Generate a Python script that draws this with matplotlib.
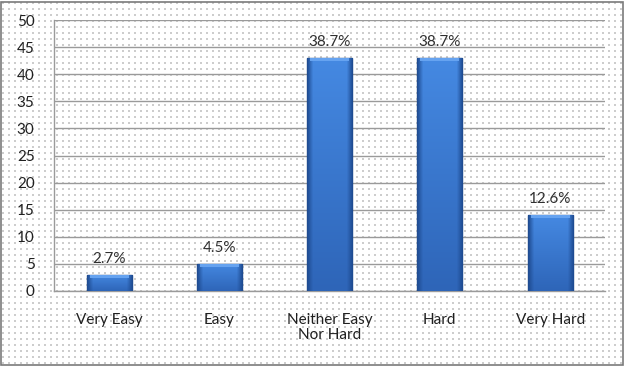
# difficulty_bars.py
# Bar chart of difficulty ratings with percentage labels

import numpy as np
import matplotlib.pyplot as plt
from matplotlib.patches import Rectangle
from matplotlib.colors import to_rgb

categories = ["Very Easy", "Easy", "Neither Easy\nNor Hard", "Hard", "Very Hard"]
counts = [3, 5, 43, 43, 14]
pct_labels = ["2.7%", "4.5%", "38.7%", "38.7%", "12.6%"]
yticks = [0, 5, 10, 15, 20, 25, 30, 35, 40, 45, 50]

plt.rcParams["font.family"] = ["Lato", "DejaVu Sans"]

W, H = 625, 366
fig = plt.figure(figsize=(W / 100, H / 100), dpi=100)

# dotted background + frame, on a full-figure axes behind everything
bg = fig.add_axes([0, 0, 1, 1], zorder=-1)
bg.set_axis_off()
bg.set_xlim(0, W)
bg.set_ylim(0, H)
gx, gy = np.meshgrid(np.arange(3, W, 6), np.arange(3, H, 6))
bg.scatter(gx.ravel(), gy.ravel(), s=0.6, marker="s", color="#CDCDCD", linewidths=0)
bg.add_patch(Rectangle((1, 1), W - 3, H - 3, fill=False,
                       edgecolor="#7A7A7A", linewidth=1.2))

ax = fig.add_axes([0.0864, 0.205, 0.882, 0.740])
ax.patch.set_alpha(0)

x = np.arange(len(categories))
bars = ax.bar(x, counts, width=0.41, color="#3A78CC", edgecolor="#1E4680",
              linewidth=1.0, zorder=3)

# shaded bar fill: vertical gradient, darker sides
top_c = np.array(to_rgb("#4589E2"))
bot_c = np.array(to_rgb("#2E65B8"))
side_c = np.array(to_rgb("#1F4C92"))
for b in bars:
    x0, w, h = b.get_x(), b.get_width(), b.get_height()
    ny, nx = 200, 40
    t = np.linspace(1, 0, ny)[:, None, None]
    base = bot_c + (top_c - bot_c) * t
    u = np.linspace(-1, 1, nx)[None, :, None]
    edge = np.clip((np.abs(u) - 0.75) / 0.25, 0, 1)
    img = base * (1 - edge) + side_c * edge
    im = ax.imshow(np.broadcast_to(img, (ny, nx, 3)), extent=(x0, x0 + w, 0, h),
                   aspect="auto", zorder=3.5, interpolation="bilinear")
    im.set_clip_path(b)
    # light bevel along the top
    ax.bar(x0 + w / 2, 0.55, bottom=h - 0.6, width=w * 0.86,
           color="#66A3F0", linewidth=0, zorder=4)

for xi, c, lab in zip(x, counts, pct_labels):
    ax.text(xi, c + 1.6, lab, ha="center", va="bottom", fontsize=11,
            color="#303030", zorder=5)

ax.set_xlim(-0.5, len(categories) - 0.5)
ax.set_ylim(0, 50)
ax.set_yticks(yticks)
ax.set_xticks(x)
ax.set_xticklabels(categories, fontsize=11, color="#202020", linespacing=1.05)
ax.tick_params(axis="y", length=0, pad=14, labelsize=11, labelcolor="#202020")
ax.tick_params(axis="x", length=0, pad=16)

ax.grid(axis="y", color="#9A9A9A", linewidth=1.0, zorder=1)
ax.set_axisbelow(True)
for side in ["top", "right"]:
    ax.spines[side].set_visible(False)
for side in ["left", "bottom"]:
    ax.spines[side].set_color("#9A9A9A")
    ax.spines[side].set_linewidth(1.0)

fig.savefig("out.png", dpi=100)
